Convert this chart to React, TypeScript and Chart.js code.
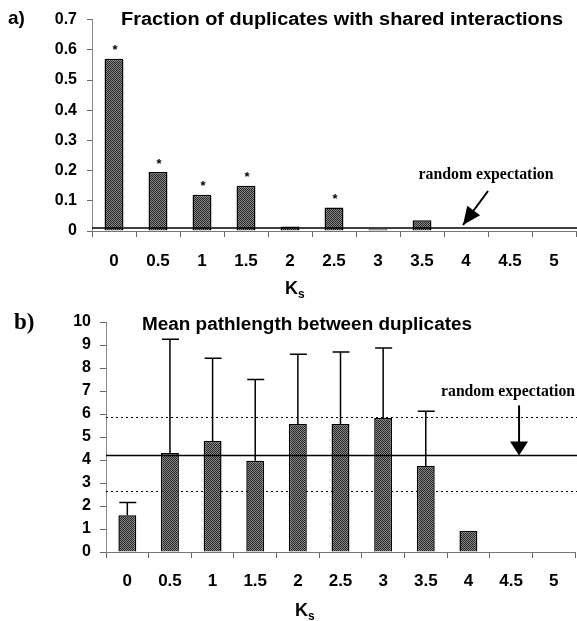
import React, { useEffect, useRef } from 'react';
import { Chart, registerables } from 'chart.js';
Chart.register(...registerables);

// ---------- data ----------
const categories = ['0', '0.5', '1', '1.5', '2', '2.5', '3', '3.5', '4', '4.5', '5'];

// panel a
const fractionShared = [0.57, 0.195, 0.12, 0.15, 0.015, 0.078, 0.006, 0.036, 0, 0, 0];
const significantA = [true, true, true, true, false, true, false, false, false, false, false];
const randomFraction = 0.01;
const titleA = 'Fraction of duplicates with shared interactions';

// panel b
const meanPath = [1.6, 4.3, 4.83, 3.97, 5.56, 5.56, 5.83, 3.74, 0.91, 0, 0];
const pathUpper = [2.15, 9.25, 8.42, 7.5, 8.6, 8.7, 8.87, 6.12, null, null, null];
const randomPath = 4.2;
const randomPathLow = 2.65;
const randomPathHigh = 5.87;
const titleB = 'Mean pathlength between duplicates';

const annotationText = 'random expectation';

const SANS = '"Liberation Sans", Arial, sans-serif';
const SERIF = '"Liberation Serif", "Times New Roman", serif';

function makePattern(canvas: HTMLCanvasElement) {
  const p = document.createElement('canvas');
  p.width = 2;
  p.height = 2;
  const pc = p.getContext('2d')!;
  pc.fillStyle = '#888888';
  pc.fillRect(0, 0, 2, 2);
  pc.fillStyle = '#262626';
  pc.fillRect(0, 0, 1, 1);
  pc.fillRect(1, 1, 1, 1);
  return canvas.getContext('2d')!.createPattern(p, 'repeat');
}

function fillTextWidth(ctx: CanvasRenderingContext2D, text: string, cx: number, cy: number, width: number) {
  const w = ctx.measureText(text).width;
  ctx.save();
  ctx.translate(cx, cy);
  ctx.scale(width / w, 1);
  ctx.textAlign = 'center';
  ctx.fillText(text, 0, 0);
  ctx.restore();
}

function drawKs(ctx: CanvasRenderingContext2D, x: number, y: number) {
  ctx.save();
  ctx.fillStyle = '#000';
  ctx.textBaseline = 'middle';
  ctx.textAlign = 'left';
  ctx.font = `bold 18px ${SANS}`;
  ctx.fillText('K', x, y);
  const w = ctx.measureText('K').width;
  ctx.font = `bold 12px ${SANS}`;
  ctx.fillText('s', x + w, y + 6);
  ctx.restore();
}

function drawArrowHead(ctx: CanvasRenderingContext2D, fx: number, fy: number, tx: number, ty: number, len: number, half: number) {
  const ang = Math.atan2(ty - fy, tx - fx);
  const bx = tx - len * Math.cos(ang);
  const by = ty - len * Math.sin(ang);
  ctx.beginPath();
  ctx.moveTo(tx, ty);
  ctx.lineTo(bx + half * Math.sin(ang), by - half * Math.cos(ang));
  ctx.lineTo(bx - half * Math.sin(ang), by + half * Math.cos(ang));
  ctx.closePath();
  ctx.fill();
}

function axisCommon(fontSize: number) {
  return {
    ticks: { color: '#000', font: { family: SANS, size: fontSize, weight: 'bold' as const } },
  };
}

const overlayA = {
  id: 'overlayA',
  afterDatasetsDraw(chart: any) {
    const { ctx, chartArea, scales } = chart;
    const x = scales.x;
    const y = scales.y;
    ctx.save();
    // random expectation line
    const ry = y.getPixelForValue(randomFraction);
    ctx.strokeStyle = '#000';
    ctx.lineWidth = 1.5;
    ctx.beginPath();
    ctx.moveTo(chartArea.left, ry);
    ctx.lineTo(chart.width, ry);
    ctx.stroke();
    // asterisks
    const meta = chart.getDatasetMeta(0);
    ctx.fillStyle = '#000';
    ctx.font = `bold 13px ${SANS}`;
    ctx.textAlign = 'center';
    ctx.textBaseline = 'middle';
    significantA.forEach((s, i) => {
      if (!s) return;
      const bar = meta.data[i];
      ctx.fillText('*', bar.x + 1, bar.y - 8);
    });
    // arrow
    const tipX = x.getPixelForValue(8) - 3;
    const tipY = ry - 3;
    const fromX = tipX + 25;
    const fromY = tipY - 34;
    ctx.lineWidth = 2;
    ctx.beginPath();
    ctx.moveTo(fromX, fromY);
    ctx.lineTo(tipX, tipY);
    ctx.stroke();
    drawArrowHead(ctx, fromX, fromY, tipX, tipY, 18, 8);
    ctx.font = `bold 16px ${SERIF}`;
    fillTextWidth(ctx, annotationText, fromX - 2, fromY - 16, 135);
    // title
    ctx.font = `bold 18px ${SANS}`;
    fillTextWidth(ctx, titleA, 342, 20, 442);
    // panel label
    ctx.textAlign = 'left';
    ctx.font = `bold 19px ${SANS}`;
    ctx.fillText('a)', 8, 19);
    drawKs(ctx, (chartArea.left + chartArea.right) / 2 - 49, 289);
    ctx.restore();
  },
};

const overlayB = {
  id: 'overlayB',
  beforeDatasetsDraw(chart: any) {
    const { ctx, chartArea, scales } = chart;
    const y = scales.y;
    ctx.save();
    ctx.strokeStyle = '#000';
    // dotted bounds
    ctx.lineWidth = 1;
    ctx.setLineDash([2, 3]);
    [randomPathLow, randomPathHigh].forEach((v) => {
      const py = Math.round(y.getPixelForValue(v)) + 0.5;
      ctx.beginPath();
      ctx.moveTo(chartArea.left, py);
      ctx.lineTo(chart.width, py);
      ctx.stroke();
    });
    ctx.restore();
  },
  afterDatasetsDraw(chart: any) {
    const { ctx, chartArea, scales } = chart;
    const x = scales.x;
    const y = scales.y;
    ctx.save();
    ctx.strokeStyle = '#000';
    ctx.fillStyle = '#000';
    // error bars
    const meta = chart.getDatasetMeta(0);
    ctx.lineWidth = 1.5;
    pathUpper.forEach((u, i) => {
      if (u == null) return;
      const bar = meta.data[i];
      const top = y.getPixelForValue(u);
      ctx.beginPath();
      ctx.moveTo(bar.x, bar.y);
      ctx.lineTo(bar.x, top);
      ctx.moveTo(bar.x - 8, top);
      ctx.lineTo(bar.x + 9, top);
      ctx.stroke();
    });
    // random line
    const ry = y.getPixelForValue(randomPath);
    ctx.lineWidth = 1.5;
    ctx.beginPath();
    ctx.moveTo(chartArea.left, ry);
    ctx.lineTo(chart.width, ry);
    ctx.stroke();
    // arrow
    const tipX = x.getPixelForValue(9) + 8;
    const tipY = ry;
    const fromY = tipY - 50;
    ctx.lineWidth = 2;
    ctx.beginPath();
    ctx.moveTo(tipX, fromY);
    ctx.lineTo(tipX, tipY - 10);
    ctx.stroke();
    drawArrowHead(ctx, tipX, fromY, tipX, tipY, 14, 9);
    ctx.textBaseline = 'middle';
    ctx.font = `bold 16px ${SERIF}`;
    fillTextWidth(ctx, annotationText, tipX - 11, fromY - 14, 134);
    // title
    ctx.font = `bold 18px ${SANS}`;
    fillTextWidth(ctx, titleB, 307, 25, 330);
    // panel label
    ctx.textAlign = 'left';
    ctx.font = `bold 23px ${SERIF}`;
    ctx.fillText('b)', 14, 23);
    drawKs(ctx, 295, 311);
    ctx.restore();
  },
};

function fmtA(v: number) {
  if (Math.abs(v) < 1e-9) return '0';
  return (Math.round(v * 10) / 10).toFixed(1);
}

export default function App() {
  const refA = useRef<HTMLCanvasElement>(null);
  const refB = useRef<HTMLCanvasElement>(null);

  useEffect(() => {
    const ca = refA.current!;
    const cb = refB.current!;
    const patA = makePattern(ca);
    const patB = makePattern(cb);

    const chartA = new Chart(ca, {
      type: 'bar',
      data: {
        labels: categories,
        datasets: [
          {
            data: fractionShared,
            backgroundColor: patA as any,
            borderColor: '#000',
            borderWidth: 1.5,
            barPercentage: 1,
            categoryPercentage: 0.43,
          },
        ],
      },
      options: {
        responsive: false,
        animation: false,
        layout: { padding: { left: 0, right: 1, top: 19.6, bottom: 0 } },
        plugins: { legend: { display: false }, tooltip: { enabled: false } },
        scales: {
          x: {
            offset: true,
            grid: { offset: true, drawOnChartArea: false, tickLength: 6, color: '#666' },
            border: { color: '#777', width: 1 },
            ticks: { ...axisCommon(17).ticks, padding: 14, maxRotation: 0, autoSkip: false },
            afterFit: (s: any) => { s.height = 69; },
          },
          y: {
            min: 0,
            max: 0.7,
            grid: { drawOnChartArea: false, tickLength: 5, color: '#666' },
            border: { color: '#888', width: 1 },
            ticks: { ...axisCommon(16).ticks, stepSize: 0.1, padding: 10, callback: (v: any) => fmtA(Number(v)) },
            afterFit: (s: any) => { s.width = 92; },
          },
        },
      },
      plugins: [overlayA],
    });

    const chartB = new Chart(cb, {
      type: 'bar',
      data: {
        labels: categories,
        datasets: [
          {
            data: meanPath,
            backgroundColor: patB as any,
            borderColor: '#000',
            borderWidth: 1.5,
            barPercentage: 1,
            categoryPercentage: 0.42,
          },
        ],
      },
      options: {
        responsive: false,
        animation: false,
        layout: { padding: { left: 0, right: 2, top: 22, bottom: 0 } },
        plugins: { legend: { display: false }, tooltip: { enabled: false } },
        scales: {
          x: {
            offset: true,
            grid: { offset: true, drawOnChartArea: false, tickLength: 6, color: '#666' },
            border: { color: '#777', width: 1 },
            ticks: { ...axisCommon(17).ticks, padding: 13, maxRotation: 0, autoSkip: false },
            afterFit: (s: any) => { s.height = 69; },
          },
          y: {
            min: 0,
            max: 10,
            grid: { drawOnChartArea: false, tickLength: 6, color: '#666' },
            border: { color: '#888', width: 1 },
            ticks: { ...axisCommon(16).ticks, stepSize: 1, padding: 9 },
            afterFit: (s: any) => { s.width = 106; },
          },
        },
      },
      plugins: [overlayB],
    });

    return () => {
      chartA.destroy();
      chartB.destroy();
    };
  }, []);

  return (
    <div style={{ position: 'absolute', left: 0, top: 0, width: 577, height: 621, background: '#fff' }}>
      <canvas ref={refA} width={577} height={300} style={{ position: 'absolute', left: 0, top: 0 }} />
      <canvas ref={refB} width={577} height={321} style={{ position: 'absolute', left: 0, top: 300 }} />
    </div>
  );
}
